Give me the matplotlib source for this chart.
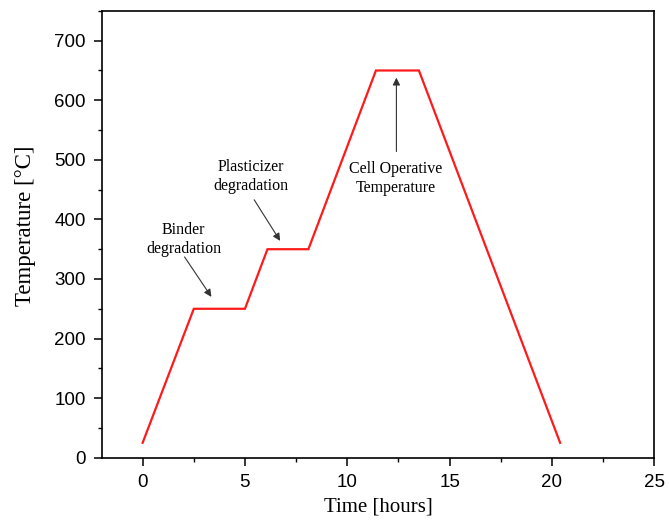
import matplotlib
matplotlib.use("Agg")
import matplotlib.pyplot as plt
from matplotlib.ticker import MultipleLocator

# Data
time_h = [0, 2.5, 5.0, 6.1, 8.1, 11.4, 13.5, 20.4]
temp_c = [25, 250, 250, 350, 350, 650, 650, 25]

x_ticks = [0, 5, 10, 15, 20, 25]
y_ticks = [0, 100, 200, 300, 400, 500, 600, 700]

annotations = [
    # text, text position, arrow tail, arrow head
    ("Binder\ndegradation", (2.0, 367), (2.05, 337), (3.36, 270)),
    ("Plasticizer\ndegradation", (5.3, 472), (5.45, 433), (6.72, 364)),
    ("Cell Operative\nTemperature", (12.35, 469), (12.4, 514), (12.4, 638)),
]

fig = plt.figure(figsize=(6.69, 5.30), dpi=100)
ax = fig.add_axes([0.152, 0.1364, 0.826, 0.843])

ax.plot(time_h, temp_c, color="#ff1a1a", lw=1.6, solid_joinstyle="miter")

ax.set_xlim(-2, 25)
ax.set_ylim(0, 750)
ax.set_xticks(x_ticks)
ax.set_yticks(y_ticks)
ax.xaxis.set_minor_locator(MultipleLocator(2.5))
ax.yaxis.set_minor_locator(MultipleLocator(50))

ax.tick_params(which="major", direction="out", length=5.5, width=1.1,
               labelsize=13.5, pad=6)
ax.tick_params(which="minor", direction="out", length=3, width=1.0)
ax.tick_params(top=False, right=False, which="both")
for lab in ax.get_xticklabels() + ax.get_yticklabels():
    lab.set_fontfamily("Liberation Sans")
for s in ax.spines.values():
    s.set_linewidth(1.2)

ax.set_xlabel("Time [hours]", fontfamily="Liberation Serif", fontsize=15, labelpad=5)
ax.set_ylabel("Temperature [°C]", fontfamily="Liberation Serif", fontsize=16.5, labelpad=13)
ax.yaxis.label.set_y(0.52)

for text, tpos, tail, head in annotations:
    ax.text(tpos[0], tpos[1], text, ha="center", va="center",
            fontfamily="Liberation Serif", fontsize=11.5, linespacing=1.25)
    ax.annotate("", xy=head, xytext=tail,
                arrowprops=dict(arrowstyle="-|>", color="#333333", lw=0.8,
                                mutation_scale=11, shrinkA=0, shrinkB=0))

fig.savefig("out.png", dpi=100)
